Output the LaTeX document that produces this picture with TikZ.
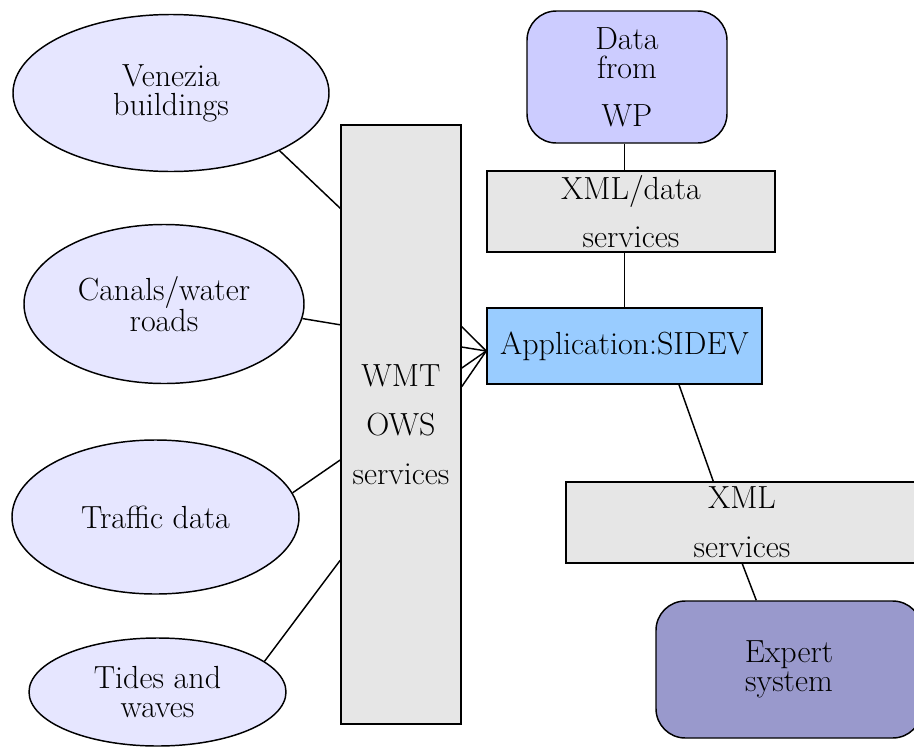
\documentclass[tikz,border=0pt]{standalone}
\usepackage{fontspec}
\usetikzlibrary{shapes.geometric,calc}
\definecolor{ellfill}{HTML}{E6E6FF}
\definecolor{boxgray}{HTML}{E6E6E6}
\definecolor{datafill}{HTML}{CCCCFF}
\definecolor{appfill}{HTML}{99CCFF}
\definecolor{expfill}{HTML}{9999CC}
\tikzset{
  base/.style={draw=black, line width=1.1pt, align=center, inner sep=0pt,
    font=\fontsize{24}{21.75}\selectfont},
  ell/.style={base, ellipse, fill=ellfill},
  graybox/.style={base, rectangle, fill=boxgray},
  roundbox/.style={base, rectangle, rounded corners=22pt},
  conn/.style={draw=black, line width=1.1pt}
}
\begin{document}
\begin{tikzpicture}[x=0.75pt,y=-0.75pt]
\useasboundingbox (0,0) rectangle (914,750);
% left ellipses
\node[ell, minimum width=237pt, minimum height=117.75pt] (ven) at (171,93) {Venezia\\buildings};
\node[ell, minimum width=210pt, minimum height=119.25pt] (can) at (164,304) {Canals/water\\roads};
\node[ell, minimum width=215.25pt, minimum height=115.5pt] (tra) at (155.5,517) {Traffic data};
\node[ell, minimum width=192.75pt, minimum height=81pt] (tid) at (157.5,692) {Tides and\\waves};
% WMT box
\node[graybox, minimum width=90pt, minimum height=449.25pt] (wmt) at (401,424.5) {WMT\\[15pt]OWS\\[15pt]services};
% right column
\node[roundbox, fill=datafill, minimum width=150pt, minimum height=99pt] (data) at (627,77) {Data\\from\\[14pt]WP};
\node[graybox, minimum width=216pt, minimum height=60.75pt] (xmld) at (631,211.5) {XML/data\\[14pt]services};
\node[base, rectangle, fill=appfill, minimum width=206.25pt, minimum height=57pt] (app) at (624.5,346) {Application:SIDEV};
\node[graybox, minimum width=264pt, minimum height=60.75pt] (xmls) at (742,522.5) {XML\\[15pt]services};
\node[roundbox, fill=expfill, minimum width=199.5pt, minimum height=102.75pt] (exp) at (789,669.5) {Expert\\system};
% connectors from ellipses to WMT
\coordinate (wa) at ($(wmt.north west)!0.140!(wmt.south west)$);
\coordinate (wb) at ($(wmt.north west)!0.334!(wmt.south west)$);
\coordinate (wc) at ($(wmt.north west)!0.559!(wmt.south west)$);
\coordinate (wd) at ($(wmt.north west)!0.726!(wmt.south west)$);
\draw[conn] (ven.-28) -- (wa);
\draw[conn] (can.-6) -- (wb);
\draw[conn] (tra.10) -- (wc);
\draw[conn] (tid.16) -- (wd);
% fan from WMT to application
\coordinate (fanpt) at ($(app.west)+(0,5)$);
\coordinate (e1) at ($(wmt.north east)!0.337!(wmt.south east)$);
\coordinate (e2) at ($(wmt.north east)!0.371!(wmt.south east)$);
\coordinate (e3) at ($(wmt.north east)!0.406!(wmt.south east)$);
\coordinate (e4) at ($(wmt.north east)!0.437!(wmt.south east)$);
\draw[conn] (e1) -- (fanpt);
\draw[conn] (e2) -- (fanpt);
\draw[conn] (e3) -- (fanpt);
\draw[conn] (e4) -- (fanpt);
% vertical chain
\draw[conn] (data.south -| app.north) -- (app.north |- xmld.north);
\draw[conn] (app.north |- xmld.south) -- (app.north);
\draw[conn] ($(app.south)+(54.5,0)$) -- ($(xmls.north west)+(148,0)$);
\draw[conn] ($(xmls.south west)+(177,0)$) -- ($(exp.north west)+(101,0)$);
\end{tikzpicture}
\end{document}
